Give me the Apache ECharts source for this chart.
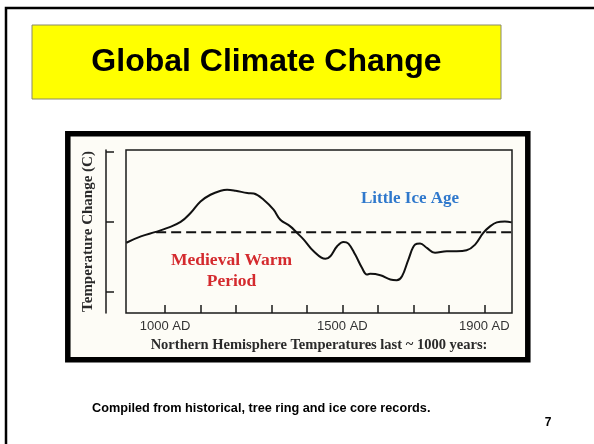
<!DOCTYPE html>
<html><head><meta charset="utf-8">
<script src="https://cdn.jsdelivr.net/npm/echarts@6/dist/echarts.min.js"></script>
<style>html,body{margin:0;padding:0;background:#fff}#c{width:594px;height:444px}</style>
</head><body><div id="c"></div>
<script>
// Northern Hemisphere temperature change (arbitrary units)
const years = [891, 932, 974, 1007, 1044, 1072, 1100, 1128, 1157, 1175, 1199, 1232, 1250, 1278, 1306, 1325, 1353, 1372, 1391, 1419, 1452, 1466, 1485, 1503, 1517, 1536, 1555, 1569, 1578, 1607, 1635, 1653, 1668, 1686, 1705, 1719, 1738, 1761, 1794, 1822, 1850, 1874, 1897, 1916, 1935, 1958, 1977];
const temps = [-0.30, -0.21, -0.146, -0.089, -0.004, 0.123, 0.288, 0.383, 0.44, 0.454, 0.44, 0.407, 0.40, 0.312, 0.17, 0.028, -0.067, -0.16, -0.255, -0.421, -0.529, -0.492, -0.35, -0.288, -0.312, -0.468, -0.657, -0.752, -0.742, -0.762, -0.823, -0.833, -0.776, -0.539, -0.326, -0.312, -0.373, -0.444, -0.421, -0.421, -0.407, -0.326, -0.16, -0.067, -0.01, 0.004, -0.01];
const baselineYears = [975, 1977];
const baselineValue = -0.152;
const xTickYears = [1000, 1100, 1200, 1300, 1400, 1500, 1600, 1700, 1800, 1900];
const xLabelYears = [1000, 1500, 1900];
const yTickValues = [-1, 0, 1];
const titleText = 'Global Climate Change';
const xName = 'Northern Hemisphere Temperatures last ~ 1000 years:';
const yName = 'Temperature Change (C)';
const noteWarm = 'Medieval Warm\nPeriod';
const noteIce = 'Little Ice Age';
const footnote = 'Compiled from historical, tree ring and ice core records.';
const pageNum = '7';

const chart = echarts.init(document.getElementById('c'), null, {renderer: 'canvas'});
const serif = '"Liberation Serif", "Times New Roman", serif';
const sans = '"Liberation Sans", Arial, sans-serif';
chart.setOption({
  backgroundColor: '#ffffff',
  animation: false,
  grid: {left: 126, right: 82, top: 150, bottom: 131, show: true, borderColor: '#1a1a1a', borderWidth: 1.5, backgroundColor: 'transparent'},
  xAxis: {
    type: 'value', min: 890, max: 1978,
    splitLine: {show: false},
    axisLine: {show: false, onZero: false},
    axisTick: {show: true, inside: true, length: 8, customValues: xTickYears, lineStyle: {color: '#1a1a1a', width: 1.5}},
    axisLabel: {show: true, customValues: xLabelYears, formatter: v => v + ' AD', color: '#333', fontFamily: sans, fontSize: 13, margin: 7},
    name: xName, nameLocation: 'middle', nameGap: 25,
    nameTextStyle: {fontFamily: serif, fontWeight: 'bold', fontSize: 14.5, color: '#2a2a2a'}
  },
  yAxis: {
    type: 'value', min: -1.3, max: 1.02, offset: 20,
    splitLine: {show: false},
    axisLine: {show: true, onZero: false, lineStyle: {color: '#1a1a1a', width: 1.5}},
    axisTick: {show: true, inside: true, length: 8, customValues: yTickValues, lineStyle: {color: '#1a1a1a', width: 1.5}},
    axisLabel: {show: false},
    name: yName, nameLocation: 'middle', nameGap: 10, nameRotate: 90,
    nameTextStyle: {fontFamily: serif, fontWeight: 'bold', fontSize: 15, color: '#2a2a2a'}
  },
  series: [
    {type: 'line', data: years.map((y, i) => [y, temps[i]]), smooth: 0.4, symbol: 'none',
     lineStyle: {color: '#111', width: 2}, z: 3},
    {type: 'line', data: baselineYears.map(y => [y, baselineValue]), symbol: 'none',
     lineStyle: {color: '#111', width: 2, type: [10, 5]}, z: 3}
  ],
  graphic: [
    {type: 'rect', z: -10, shape: {x: 6, y: 8, width: 620, height: 470}, style: {fill: '#fff', stroke: '#000', lineWidth: 2.5}},
    {type: 'rect', z: -9, shape: {x: 32, y: 25, width: 469, height: 74}, style: {fill: '#ffff00', stroke: '#8a8a6a', lineWidth: 1}},
    {type: 'text', z: -8, x: 266.5, y: 62, style: {text: titleText, fill: '#000', font: 'bold 32px ' + sans, textAlign: 'center', textVerticalAlign: 'middle'}},
    {type: 'rect', z: -9, shape: {x: 67.8, y: 133.8, width: 460, height: 226}, style: {fill: '#fdfcf6', stroke: '#000', lineWidth: 5.5}},
    {type: 'text', z: 5, x: 410, y: 199, style: {text: noteIce, fill: '#2f78cc', font: 'bold 17px ' + serif, textAlign: 'center', textVerticalAlign: 'middle'}},
    {type: 'text', z: 5, x: 231.5, y: 271, style: {text: noteWarm, fill: '#d42a2e', font: 'bold 17.5px ' + serif, textAlign: 'center', textVerticalAlign: 'middle', lineHeight: 21}},
    {type: 'text', z: 5, x: 92, y: 408, style: {text: footnote, fill: '#000', font: 'bold 12.7px ' + sans, textAlign: 'left', textVerticalAlign: 'middle'}},
    {type: 'text', z: 5, x: 548, y: 423, style: {text: pageNum, fill: '#000', font: 'bold 12px ' + sans, textAlign: 'center', textVerticalAlign: 'middle'}}
  ]
});
</script>
</body></html>
